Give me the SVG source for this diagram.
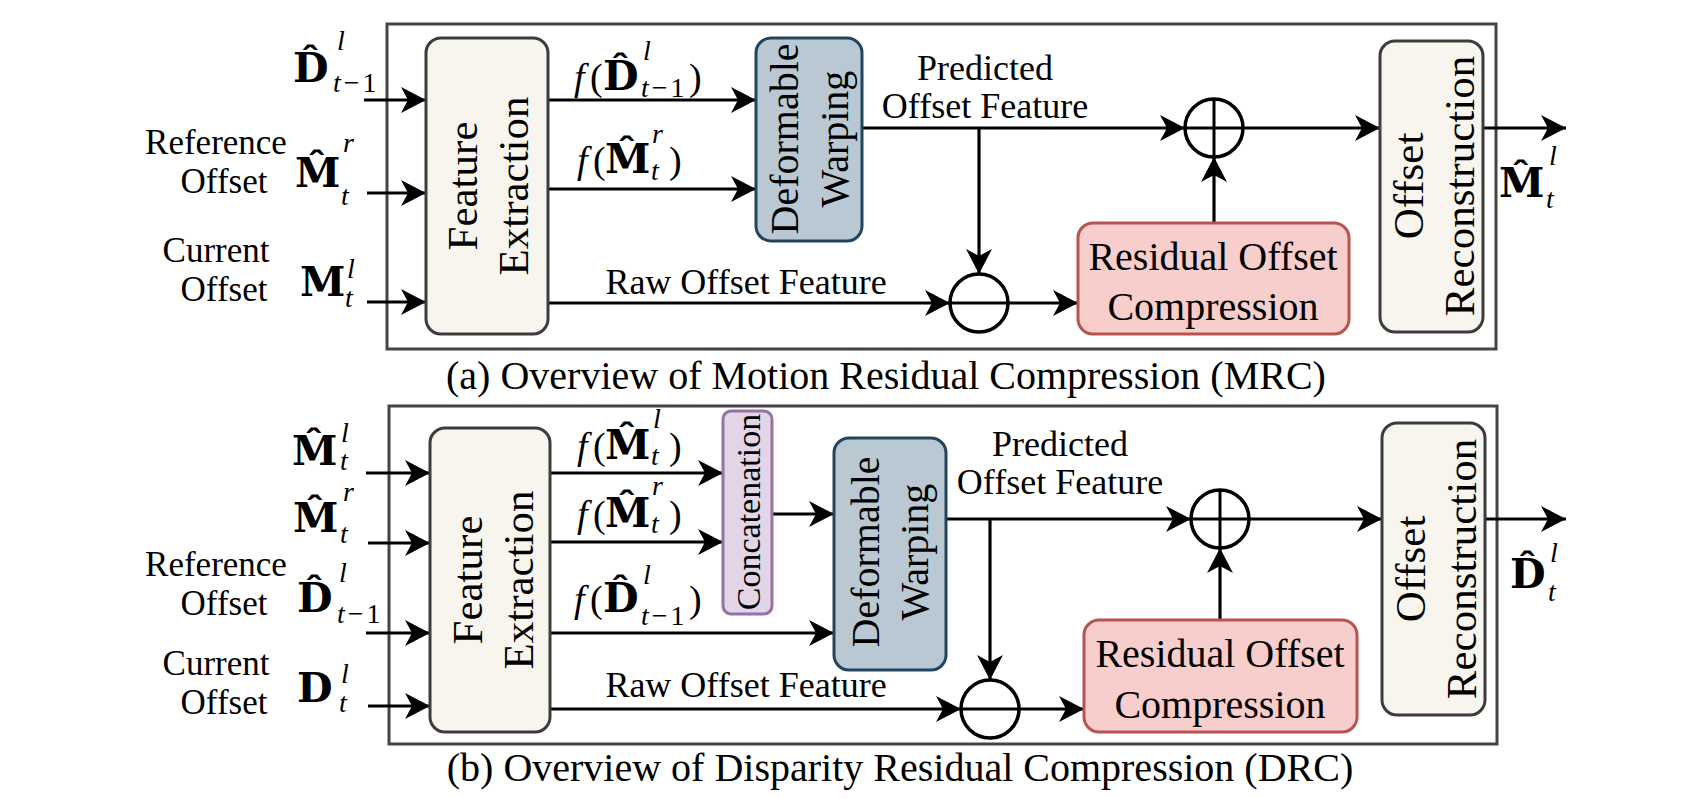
<svg xmlns="http://www.w3.org/2000/svg" width="1701" height="798" viewBox="0 0 1701 798">
<defs>
<marker id="ah" markerUnits="userSpaceOnUse" markerWidth="26" markerHeight="26" viewBox="0 0 26 26" refX="25" refY="13" orient="auto">
<path d="M0,0 L25,13 L0,26 L7,13 Z" fill="#000"/>
</marker>
<style>
.frame{fill:none;stroke:#444;stroke-width:3}
.fe{fill:#f7f5ee;stroke:#3c3c3c;stroke-width:3}
.dw{fill:#bac8d3;stroke:#23445d;stroke-width:3}
.roc{fill:#f8cecc;stroke:#b85450;stroke-width:3}
.cc{fill:#e1d5e7;stroke:#9673a6;stroke-width:3}
.op{fill:#fff;stroke:#000;stroke-width:3.5}
.opl{stroke:#000;stroke-width:3}
.ln{fill:none;stroke:#000;stroke-width:3.2;marker-end:url(#ah)}
text{font-family:"Liberation Serif","Times New Roman",serif;fill:#000}
.lb{font-size:36px;text-anchor:middle}
.il{font-size:35px;text-anchor:middle}
.vt{font-size:43px;text-anchor:middle}
.vw{font-size:40px;text-anchor:middle}
.vc{font-size:34px;text-anchor:middle}
.rt{font-size:40px;text-anchor:middle}
.cap{font-size:40px;text-anchor:middle}
.mb{font-family:"DejaVu Serif",serif;font-size:41px;font-weight:bold;font-style:normal}
.mi{font-size:38px;font-style:italic}
.mn{font-size:38px;font-style:normal;font-weight:normal}
.ms{font-size:28px;font-style:italic;font-weight:normal}
.mr{font-size:28px;font-style:normal;font-weight:normal}
</style>
</defs>

<!-- ================= Panel (a) ================= -->
<g id="frame-a"><rect class="frame" x="387" y="24" width="1109" height="325"/></g>

<g id="connectors-a">
<line class="ln" x1="364" y1="100" x2="426" y2="100"/>
<line class="ln" x1="367" y1="193" x2="426" y2="193"/>
<line class="ln" x1="367" y1="302" x2="426" y2="302"/>
<line class="ln" x1="548" y1="100" x2="756" y2="100"/>
<line class="ln" x1="548" y1="189" x2="756" y2="189"/>
<line class="ln" x1="862" y1="128" x2="1185" y2="128"/>
<line class="ln" x1="979" y1="128" x2="979" y2="274"/>
<line class="ln" x1="548" y1="303" x2="950" y2="303"/>
<line class="ln" x1="1008" y1="303" x2="1078" y2="303"/>
<line class="ln" x1="1214" y1="223" x2="1214" y2="157"/>
<line class="ln" x1="1243" y1="128" x2="1380" y2="128"/>
<line class="ln" x1="1483" y1="128" x2="1566" y2="128"/>
</g>

<g id="in-a">
<text class="il"><tspan x="216" y="154">Reference</tspan><tspan x="224" y="193">Offset</tspan></text>
<text class="il"><tspan x="216" y="262">Current</tspan><tspan x="224" y="301">Offset</tspan></text>
<text x="293" y="82"><tspan class="mb">D&#x302;</tspan><tspan class="ms" x="337" y="50">l</tspan><tspan class="ms" x="333" y="92">t</tspan><tspan class="mr" dx="3">−</tspan><tspan class="mr" dx="3">1</tspan></text>
<text x="295" y="187"><tspan class="mb">M&#x302;</tspan><tspan class="ms" x="343" y="152">r</tspan><tspan class="ms" x="341" y="205">t</tspan></text>
<text x="300" y="296"><tspan class="mb">M</tspan><tspan class="ms" x="347" y="278">l</tspan><tspan class="ms" x="345" y="307">t</tspan></text>
</g>

<g id="fe-a">
<rect class="fe" x="426" y="38" width="122" height="296" rx="15"/>
<text class="vt" transform="translate(477,186) rotate(-90)"><tspan x="0" y="0">Feature</tspan><tspan x="0" y="51">Extraction</tspan></text>
</g>

<g id="flabels-a">
<text x="574" y="90"><tspan class="mi">f</tspan><tspan class="mn" x="590">(</tspan><tspan class="mb" x="603">D&#x302;</tspan><tspan class="ms" x="643" y="60">l</tspan><tspan class="ms" x="641" y="97">t</tspan><tspan class="mr" dx="3">−</tspan><tspan class="mr" dx="3">1</tspan><tspan class="mn" x="689" y="90">)</tspan></text>
<text x="577" y="173"><tspan class="mi">f</tspan><tspan class="mn" x="593">(</tspan><tspan class="mb" x="605">M&#x302;</tspan><tspan class="ms" x="652" y="143">r</tspan><tspan class="ms" x="651" y="180">t</tspan><tspan class="mn" x="669" y="173">)</tspan></text>
</g>

<g id="dw-a">
<rect class="dw" x="756" y="38" width="106" height="203" rx="15"/>
<text class="vw" transform="translate(798,139) rotate(-90)"><tspan x="0" y="0">Deformable</tspan><tspan x="0" y="50">Warping</tspan></text>
</g>

<g id="pred-a">
<text class="lb"><tspan x="985" y="80">Predicted</tspan><tspan x="985" y="118">Offset Feature</tspan></text>
</g>

<g id="raw-a"><text class="lb" x="746" y="294">Raw Offset Feature</text></g>

<g id="plus-a">
<circle class="op" cx="1214" cy="128" r="29"/>
<line class="opl" x1="1185" y1="128" x2="1243" y2="128"/>
<line class="opl" x1="1214" y1="99" x2="1214" y2="157"/>
</g>

<g id="minus-a">
<circle class="op" cx="979" cy="303" r="29"/>
<line class="opl" x1="950" y1="303" x2="1008" y2="303"/>
</g>

<g id="roc-a">
<rect class="roc" x="1078" y="223" width="271" height="111" rx="15"/>
<text class="rt"><tspan x="1213" y="270">Residual Offset</tspan><tspan x="1213" y="320">Compression</tspan></text>
</g>

<g id="or-a">
<rect class="fe" x="1380" y="41" width="103" height="291" rx="15"/>
<text class="vt" transform="translate(1423,186) rotate(-90)"><tspan x="0" y="0">Offset</tspan><tspan x="0" y="51">Reconstruction</tspan></text>
</g>

<g id="out-a">
<text x="1499" y="197"><tspan class="mb">M&#x302;</tspan><tspan class="ms" x="1549" y="165">l</tspan><tspan class="ms" x="1546" y="208">t</tspan></text>
</g>

<g id="caption-a"><text class="cap" x="886" y="389">(a) Overview of Motion Residual Compression (MRC)</text></g>

<!-- ================= Panel (b) ================= -->
<g id="frame-b"><rect class="frame" x="389" y="406" width="1108" height="338"/></g>

<g id="connectors-b">
<line class="ln" x1="366" y1="473" x2="430" y2="473"/>
<line class="ln" x1="368" y1="543" x2="430" y2="543"/>
<line class="ln" x1="366" y1="633" x2="430" y2="633"/>
<line class="ln" x1="368" y1="706" x2="430" y2="706"/>
<line class="ln" x1="550" y1="473" x2="723" y2="473"/>
<line class="ln" x1="550" y1="542" x2="723" y2="542"/>
<line class="ln" x1="772" y1="514" x2="834" y2="514"/>
<line class="ln" x1="550" y1="633" x2="834" y2="633"/>
<line class="ln" x1="946" y1="519" x2="1191" y2="519"/>
<line class="ln" x1="990" y1="519" x2="990" y2="680"/>
<line class="ln" x1="550" y1="709" x2="961" y2="709"/>
<line class="ln" x1="1019" y1="709" x2="1084" y2="709"/>
<line class="ln" x1="1220" y1="620" x2="1220" y2="548"/>
<line class="ln" x1="1249" y1="519" x2="1382" y2="519"/>
<line class="ln" x1="1485" y1="519" x2="1566" y2="519"/>
</g>

<g id="in-b">
<text class="il"><tspan x="216" y="576">Reference</tspan><tspan x="224" y="615">Offset</tspan></text>
<text class="il"><tspan x="216" y="675">Current</tspan><tspan x="224" y="714">Offset</tspan></text>
<text x="292" y="465"><tspan class="mb">M&#x302;</tspan><tspan class="ms" x="341" y="442">l</tspan><tspan class="ms" x="340" y="470">t</tspan></text>
<text x="293" y="532"><tspan class="mb">M&#x302;</tspan><tspan class="ms" x="343" y="501">r</tspan><tspan class="ms" x="340" y="543">t</tspan></text>
<text x="297" y="612"><tspan class="mb">D&#x302;</tspan><tspan class="ms" x="339" y="582">l</tspan><tspan class="ms" x="337" y="623">t</tspan><tspan class="mr" dx="3">−</tspan><tspan class="mr" dx="3">1</tspan></text>
<text x="297" y="702"><tspan class="mb">D</tspan><tspan class="ms" x="341" y="683">l</tspan><tspan class="ms" x="339" y="712">t</tspan></text>
</g>

<g id="fe-b">
<rect class="fe" x="430" y="428" width="120" height="304" rx="15"/>
<text class="vt" transform="translate(482,580) rotate(-90)"><tspan x="0" y="0">Feature</tspan><tspan x="0" y="51">Extraction</tspan></text>
</g>

<g id="flabels-b">
<text x="577" y="459"><tspan class="mi">f</tspan><tspan class="mn" x="593">(</tspan><tspan class="mb" x="605">M&#x302;</tspan><tspan class="ms" x="653" y="428">l</tspan><tspan class="ms" x="651" y="465">t</tspan><tspan class="mn" x="669" y="459">)</tspan></text>
<text x="577" y="527"><tspan class="mi">f</tspan><tspan class="mn" x="593">(</tspan><tspan class="mb" x="605">M&#x302;</tspan><tspan class="ms" x="652" y="495">r</tspan><tspan class="ms" x="651" y="533">t</tspan><tspan class="mn" x="669" y="527">)</tspan></text>
<text x="574" y="612"><tspan class="mi">f</tspan><tspan class="mn" x="590">(</tspan><tspan class="mb" x="603">D&#x302;</tspan><tspan class="ms" x="643" y="584">l</tspan><tspan class="ms" x="641" y="625">t</tspan><tspan class="mr" dx="3">−</tspan><tspan class="mr" dx="3">1</tspan><tspan class="mn" x="689" y="612">)</tspan></text>
</g>

<g id="concat-b">
<rect class="cc" x="723" y="411" width="49" height="203" rx="8"/>
<text class="vc" transform="translate(760,512) rotate(-90)">Concatenation</text>
</g>

<g id="dw-b">
<rect class="dw" x="834" y="438" width="112" height="232" rx="15"/>
<text class="vw" transform="translate(879,552) rotate(-90)"><tspan x="0" y="0">Deformable</tspan><tspan x="0" y="49">Warping</tspan></text>
</g>

<g id="pred-b">
<text class="lb"><tspan x="1060" y="456">Predicted</tspan><tspan x="1060" y="494">Offset Feature</tspan></text>
</g>

<g id="raw-b"><text class="lb" x="746" y="697">Raw Offset Feature</text></g>

<g id="plus-b">
<circle class="op" cx="1220" cy="519" r="29"/>
<line class="opl" x1="1191" y1="519" x2="1249" y2="519"/>
<line class="opl" x1="1220" y1="490" x2="1220" y2="548"/>
</g>

<g id="minus-b">
<circle class="op" cx="990" cy="709" r="29"/>
<line class="opl" x1="961" y1="709" x2="1019" y2="709"/>
</g>

<g id="roc-b">
<rect class="roc" x="1084" y="620" width="273" height="112" rx="15"/>
<text class="rt"><tspan x="1220" y="667">Residual Offset</tspan><tspan x="1220" y="718">Compression</tspan></text>
</g>

<g id="or-b">
<rect class="fe" x="1382" y="423" width="103" height="292" rx="15"/>
<text class="vt" transform="translate(1425,569) rotate(-90)"><tspan x="0" y="0">Offset</tspan><tspan x="0" y="51">Reconstruction</tspan></text>
</g>

<g id="out-b">
<text x="1510" y="588"><tspan class="mb">D&#x302;</tspan><tspan class="ms" x="1550" y="562">l</tspan><tspan class="ms" x="1548" y="601">t</tspan></text>
</g>

<g id="caption-b"><text class="cap" x="900" y="781">(b) Overview of Disparity Residual Compression (DRC)</text></g>
</svg>
